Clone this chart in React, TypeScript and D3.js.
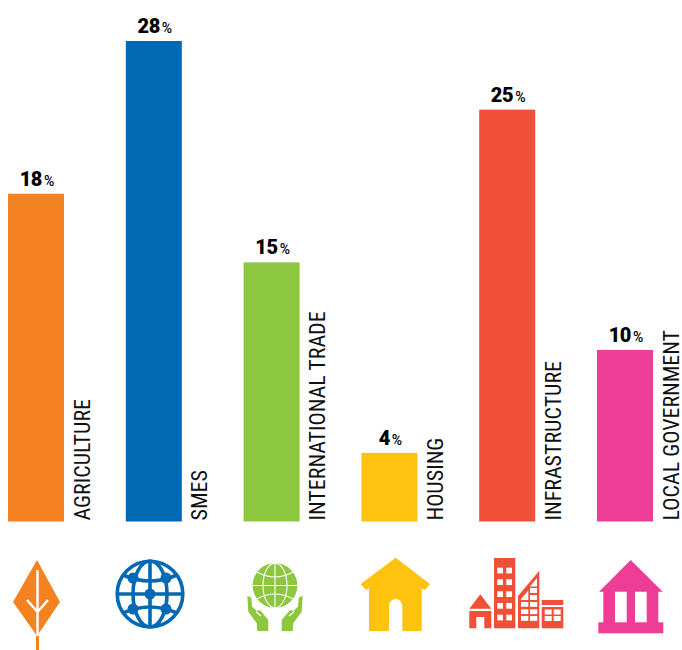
import React, { useEffect, useRef } from 'react';
import * as d3 from 'd3';

const categories = [
	'AGRICULTURE',
	'SMES',
	'INTERNATIONAL TRADE',
	'HOUSING',
	'INFRASTRUCTURE',
	'LOCAL GOVERNMENT',
];
// printed on top of the bars
const shareLabels = [18, 28, 15, 4, 25, 10];
// bar heights as drawn, in percent (the picture's bars do not all agree with the printed number)
const barValues = [19.1, 28, 15.1, 4, 24, 10];
const colors = ['#F58220', '#0069B4', '#8DC63F', '#FFC20E', '#F15038', '#EE3D96'];

const width = 682;
const height = 650;
const baseline = 521.5;

const white = '#fff';

const LeafIcon = () => (
	<g>
		<path d="M37 560L60 602L37 636L13 602Z" fill={colors[0]} />
		<rect x={36} y={635} width={3} height={15} fill={colors[0]} />
		<path
			d="M37.5 570V636M27 600L37.5 612L48 600"
			fill="none"
			stroke={white}
			strokeWidth={2.4}
		/>
	</g>
);

const NetworkIcon = () => {
	const c = colors[1];
	return (
		<g fill="none" stroke={c} strokeWidth={3.6}>
			<circle cx={150} cy={594} r={32.8} />
			<ellipse cx={150} cy={594} rx={17} ry={33} />
			<path d="M150 561V627M117 594H183" />
			<path d="M123 575Q150 587 177 575M123 613Q150 601 177 613" />
			<g fill={c} stroke="none">
				<circle cx={150} cy={594} r={5.5} />
				<circle cx={133} cy={578} r={5.5} />
				<circle cx={166} cy={578} r={5.5} />
				<circle cx={133} cy={609} r={5.5} />
				<circle cx={166} cy={609} r={5.5} />
			</g>
		</g>
	);
};

const HandsIcon = () => {
	const c = colors[2];
	const hand =
		'M247.3 595.7L251.3 597.7L252 606.7L256.7 611L260 610L268.3 620V631H257.3L256.7 623.3L248.3 611.7Z';
	return (
		<g>
			<circle cx={275} cy={585.5} r={22.4} fill={c} />
			<g fill="none" stroke={white} strokeWidth={1.1}>
				<ellipse cx={275} cy={585.5} rx={12} ry={22.4} />
				<path d="M275 563V608M252.6 585.5H297.4" />
				<path d="M257 572Q275 582 293 572M257 599Q275 589 293 599" />
			</g>
			<path d={hand} fill={c} />
			<path d="M256 611.7L261 616" stroke={white} strokeWidth={1.2} />
			<g transform="translate(550,0) scale(-1,1)">
				<path d={hand} fill={c} />
				<path d="M256 611.7L261 616" stroke={white} strokeWidth={1.2} />
			</g>
		</g>
	);
};

const HouseIcon = () => (
	<path
		d="M395.7 557.7L430 584L425 590L421.7 588.3V631H402.3V605.7A6.65 6.65 0 0 0 389 605.7V631H369V588.3L366 590L360.7 584Z"
		fill={colors[3]}
	/>
);

const CityIcon = () => {
	const c = colors[4];
	const towerWindows = d3.cross([497.3, 506.3], [567.7, 579.3, 591.3, 603, 614.7]);
	const slantWindows = d3.cross([521, 530], [602, 609.3, 616]);
	const lowWindows = d3.cross([544.7, 553.7], [609.5, 616]);
	return (
		<g>
			<path d="M469.3 608.7L480.3 594.3L491.3 608.7Z" fill={c} />
			<path
				d="M469.3 611H491.3V628.3H484.3V617H476.3V628.3H469.3Z"
				fill={c}
			/>
			<rect x={494} y={558} width={21.3} height={70.3} fill={c} />
			{towerWindows.map(([x, y]) => (
				<rect key={`${x}-${y}`} x={x} y={y} width={5.7} height={5.7} fill={white} />
			))}
			<path d="M518 596L539.3 570.7V628.3H518Z" fill={c} />
			{slantWindows.map(([x, y]) => (
				<rect key={`${x}-${y}`} x={x} y={y} width={7.3} height={4.8} fill={white} />
			))}
			<rect x={530} y={588} width={7} height={5} fill={white} />
			<rect x={530} y={595} width={7} height={5} fill={white} />
			<path d="M530 586.5L537 578V586.5Z" fill={white} />
			<path d="M521 599L528.3 590.5V600H521Z" fill={white} />
			<rect x={541.7} y={600} width={21.6} height={5} fill={c} />
			<rect x={541.7} y={607} width={21.6} height={21.3} fill={c} />
			{lowWindows.map(([x, y]) => (
				<rect key={`${x}-${y}`} x={x} y={y} width={7} height={5} fill={white} />
			))}
		</g>
	);
};

const BankIcon = () => (
	<g fill={colors[5]}>
		<path d="M630.7 560L662.7 591.7H599Z" />
		<rect x={603.3} y={591} width={11.7} height={32} />
		<rect x={626.7} y={591} width={8.3} height={32} />
		<rect x={646.7} y={591} width={11.6} height={32} />
		<rect x={598.3} y={622.3} width={65} height={11} />
	</g>
);

const App: React.FC = () => {
	const ref = useRef<SVGGElement>(null);

	useEffect(() => {
		if (!ref.current) return;

		const g = d3.select(ref.current);
		g.selectAll('*').remove();

		const x = d3
			.scaleBand<string>()
			.domain(categories)
			.range([8, 653])
			.paddingInner(0.5246);

		const y = d3.scaleLinear().domain([0, 28]).range([baseline, 41]);

		const columns = g
			.selectAll('g')
			.data(categories)
			.enter()
			.append('g')
			.attr('transform', (d) => `translate(${x(d)},0)`);

		// bars
		columns
			.append('rect')
			.attr('width', x.bandwidth())
			.attr('y', (d, i) => y(barValues[i]))
			.attr('height', (d, i) => baseline - y(barValues[i]))
			.attr('fill', (d, i) => colors[i]);

		// value on top of each bar
		const value = columns
			.append('text')
			.attr('x', x.bandwidth() / 2 + 1)
			.attr('y', (d, i) => y(barValues[i]) - 8)
			.attr('text-anchor', 'middle')
			.attr('font-family', 'Roboto, sans-serif')
			.attr('fill', '#000');
		value
			.append('tspan')
			.attr('font-size', 20)
			.attr('font-weight', 900)
			.attr('letter-spacing', -0.4)
			.text((d, i) => shareLabels[i]);
		value
			.append('tspan')
			.attr('dx', 2)
			.attr('font-size', 14)
			.attr('font-weight', 500)
			.text('%');

		// rotated category names, to the right of each bar
		columns
			.append('text')
			.attr(
				'transform',
				`translate(${x.bandwidth() + 25.5},${baseline - 1}) rotate(-90)`,
			)
			.attr('font-family', '"Liberation Sans Narrow", "Roboto Condensed", sans-serif')
			.attr('font-size', 22)
			.attr('fill', '#111')
			.text((d) => d);
	}, []);

	return (
		<svg
			width={width}
			height={height}
			style={{ position: 'absolute', left: 0, top: 0, background: '#fff' }}>
			<g ref={ref} />
			<LeafIcon />
			<NetworkIcon />
			<HandsIcon />
			<HouseIcon />
			<CityIcon />
			<BankIcon />
		</svg>
	);
};

export default App;
